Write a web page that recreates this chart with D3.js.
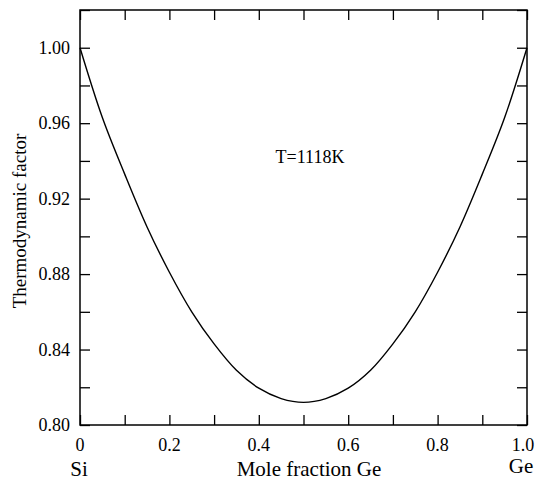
<!DOCTYPE html>
<html>
<head>
<meta charset="utf-8">
<script src="https://cdn.jsdelivr.net/npm/d3@7"></script>
<style>
    body { margin: 0; background: #fff; }
</style>
</head>
<body>
<div class="graph_container"></div>
<script>
// data
const moleFraction = [0, 0.05, 0.1, 0.15, 0.2, 0.25, 0.3, 0.35, 0.4, 0.45, 0.5, 0.55, 0.6, 0.65, 0.7, 0.75, 0.8, 0.85, 0.9, 0.95, 1.0];
const thermoFactor = [1.000, 0.963, 0.933, 0.905, 0.881, 0.860, 0.843, 0.829, 0.8195, 0.814, 0.812, 0.814, 0.8195, 0.829, 0.843, 0.860, 0.881, 0.905, 0.933, 0.963, 1.000];
const xTickLabels = [0, 0.2, 0.4, 0.6, 0.8, 1.0];
const yTickLabels = [0.80, 0.84, 0.88, 0.92, 0.96, 1.00];

//^ DIMENSIONS //
const W = 536, H = 480;
const margin_left = 80, margin_top = 10;
const width = 447, height = 415;
const serif = "'Liberation Serif', 'Times New Roman', Times, 'DejaVu Serif', serif";

const svg = d3.select(".graph_container").append("svg")
    .attr("width", W).attr("height", H)
    .attr("font-family", serif);

const g = svg.append("g").attr("transform", "translate(" + margin_left + "," + margin_top + ")");

const xScale = d3.scaleLinear().domain([0, 1]).range([0, width]);
const yScale = d3.scaleLinear().domain([0.80, 1.02]).range([height, 0]);

const xMinor = d3.range(0, 1.0001, 0.1);
const yMinor = d3.range(0.80, 1.0201, 0.02);

//^ AXES WITH INWARD TICKS ON ALL SIDES //
const tickLen = 10;
const styleAxis = (sel) => {
    sel.select(".domain").remove();
    sel.selectAll("line").attr("stroke", "#000").attr("stroke-width", 1.3);
};

g.append("g").attr("transform", "translate(0," + height + ")")
    .call(d3.axisBottom(xScale).tickValues(xMinor).tickSizeInner(-tickLen).tickSizeOuter(0).tickFormat(""))
    .call(styleAxis);
g.append("g")
    .call(d3.axisTop(xScale).tickValues(xMinor).tickSizeInner(-tickLen).tickSizeOuter(0).tickFormat(""))
    .call(styleAxis);
g.append("g")
    .call(d3.axisLeft(yScale).tickValues(yMinor).tickSizeInner(-tickLen).tickSizeOuter(0).tickFormat(""))
    .call(styleAxis);
g.append("g").attr("transform", "translate(" + width + ",0)")
    .call(d3.axisRight(yScale).tickValues(yMinor).tickSizeInner(-tickLen).tickSizeOuter(0).tickFormat(""))
    .call(styleAxis);

//^ TICK LABELS // (last one pulled in a bit so it stays on the page)
g.selectAll(".xlab").data(xTickLabels).enter().append("text")
    .attr("x", d => Math.min(xScale(d), width - 4)).attr("y", height + 26)
    .attr("text-anchor", "middle").style("font-size", "18px").style("font-family", serif)
    .text(d => d === 0 ? "0" : d3.format(".1f")(d));

g.selectAll(".ylab").data(yTickLabels).enter().append("text")
    .attr("x", -10).attr("y", d => yScale(d)).attr("dy", "0.35em")
    .attr("text-anchor", "end").style("font-size", "18px").style("font-family", serif)
    .text(d => d3.format(".2f")(d));

//^ FRAME //
g.append("rect").attr("width", width).attr("height", height)
    .attr("fill", "none").attr("stroke", "#000").attr("stroke-width", 1.5);

//^ CURVE //
const pts = moleFraction.map((x, i) => [x, thermoFactor[i]]);
const line = d3.line().x(d => xScale(d[0])).y(d => yScale(d[1])).curve(d3.curveCatmullRom.alpha(0.5));
g.append("path").datum(pts).attr("d", line)
    .attr("fill", "none").attr("stroke", "#000").attr("stroke-width", 1.4);

//^ LABELS //
g.append("text").attr("x", 230).attr("y", 153).attr("text-anchor", "middle")
    .style("font-size", "18px").style("font-family", serif).text("T=1118K");

svg.append("text").attr("x", 309).attr("y", 476).attr("text-anchor", "middle")
    .style("font-size", "21px").style("font-family", serif).text("Mole fraction Ge");
svg.append("text").attr("x", 79).attr("y", 476).attr("text-anchor", "middle")
    .style("font-size", "21px").style("font-family", serif).text("Si");
svg.append("text").attr("x", 521).attr("y", 473).attr("text-anchor", "middle")
    .style("font-size", "21px").style("font-family", serif).text("Ge");

svg.append("text").attr("transform", "translate(26,221) rotate(-90)")
    .attr("text-anchor", "middle").style("font-size", "19px").style("font-family", serif)
    .text("Thermodynamic factor");
</script>
</body>
</html>
